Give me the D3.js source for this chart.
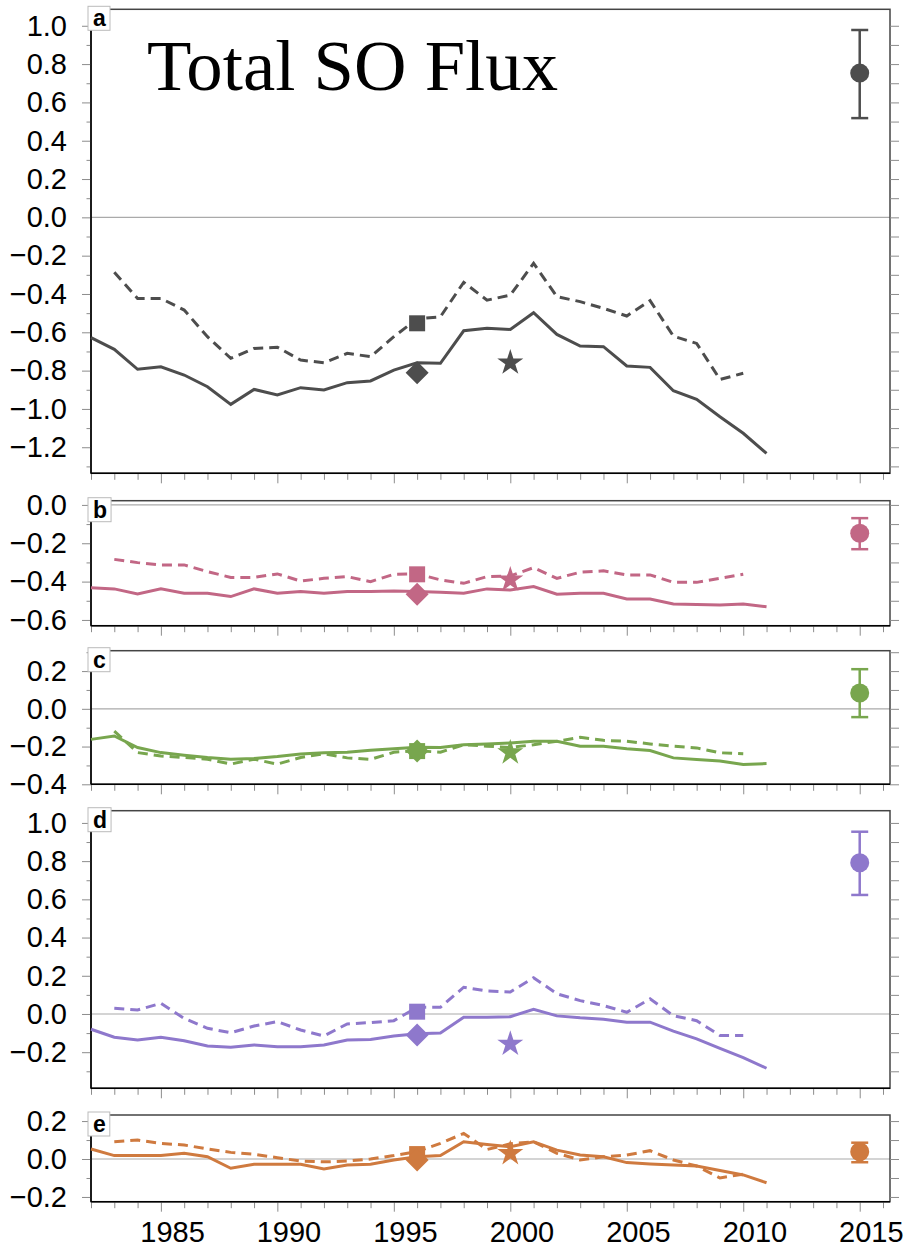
<!DOCTYPE html>
<html>
<head>
<meta charset="utf-8">
<script src="https://cdn.jsdelivr.net/npm/d3@7"></script>
<style>
  body { margin: 0; background: #fff; }
  svg { display: block; }
  .tick text { font-family: "Liberation Sans", Arial, Helvetica, sans-serif; }
</style>
</head>
<body>
<div id="chart"></div>
<script>
// ---- data ----
var yearsSolid = d3.range(1982, 2012);   // 1982..2011
var yearsDashed = d3.range(1983, 2011);  // 1983..2010
var panelLetters = ["a", "b", "c", "d", "e"];
var panelColors = ["#4d4d4d", "#c26785", "#78a64e", "#8e78cc", "#cf7a3f"];

var solidA = [-0.628, -0.689, -0.793, -0.78, -0.823, -0.884, -0.976, -0.898, -0.927, -0.889,
  -0.901, -0.863, -0.854, -0.797, -0.759, -0.762, -0.592, -0.579, -0.585, -0.498,
  -0.611, -0.672, -0.675, -0.776, -0.783, -0.905, -0.95, -1.041, -1.127, -1.232];
var dashedA = [-0.287, -0.423, -0.423, -0.484, -0.623, -0.736, -0.684, -0.678, -0.745, -0.759,
  -0.71, -0.727, -0.623, -0.53, -0.519, -0.339, -0.432, -0.406, -0.24, -0.414,
  -0.44, -0.475, -0.515, -0.435, -0.62, -0.658, -0.846, -0.814];

var solidB = [-0.432, -0.438, -0.465, -0.438, -0.461, -0.461, -0.478, -0.438, -0.461, -0.452,
  -0.461, -0.452, -0.452, -0.449, -0.452, -0.455, -0.461, -0.438, -0.444, -0.426,
  -0.466, -0.461, -0.461, -0.491, -0.491, -0.517, -0.519, -0.522, -0.517, -0.531];
var dashedB = [-0.284, -0.301, -0.313, -0.313, -0.348, -0.378, -0.378, -0.36, -0.397, -0.383,
  -0.374, -0.4, -0.362, -0.36, -0.391, -0.409, -0.374, -0.37, -0.327, -0.383,
  -0.351, -0.344, -0.365, -0.365, -0.404, -0.404, -0.383, -0.362];

var solidC = [-0.162, -0.144, -0.205, -0.232, -0.246, -0.258, -0.267, -0.263, -0.253, -0.24,
  -0.233, -0.23, -0.22, -0.211, -0.204, -0.205, -0.19, -0.186, -0.181, -0.172,
  -0.172, -0.198, -0.198, -0.211, -0.221, -0.26, -0.268, -0.277, -0.295, -0.29];
var dashedC = [-0.118, -0.232, -0.25, -0.258, -0.267, -0.293, -0.267, -0.293, -0.258, -0.238,
  -0.26, -0.268, -0.23, -0.222, -0.23, -0.19, -0.198, -0.205, -0.19, -0.172,
  -0.151, -0.167, -0.172, -0.186, -0.198, -0.207, -0.233, -0.238];

var solidD = [-0.08, -0.122, -0.136, -0.122, -0.14, -0.168, -0.174, -0.162, -0.171, -0.171,
  -0.162, -0.136, -0.133, -0.115, -0.103, -0.1, -0.017, -0.017, -0.014, 0.025,
  -0.01, -0.02, -0.027, -0.043, -0.043, -0.09, -0.13, -0.18, -0.228, -0.284];
var dashedD = [0.03, 0.021, 0.056, -0.023, -0.075, -0.098, -0.063, -0.04, -0.084, -0.115,
  -0.052, -0.045, -0.035, 0.035, 0.035, 0.14, 0.12, 0.115, 0.19, 0.106,
  0.07, 0.044, 0.009, 0.079, -0.009, -0.035, -0.113, -0.113];

var solidE = [0.053, 0.018, 0.018, 0.018, 0.03, 0.012, -0.049, -0.028, -0.028, -0.028,
  -0.053, -0.032, -0.028, -0.005, 0.012, 0.018, 0.091, 0.077, 0.065, 0.091,
  0.047, 0.021, 0.012, -0.019, -0.026, -0.032, -0.037, -0.061, -0.084, -0.125];
var dashedE = [0.091, 0.1, 0.082, 0.074, 0.053, 0.035, 0.025, 0.007, -0.011, -0.015,
  -0.011, 0.0, 0.018, 0.04, 0.082, 0.135, 0.05, 0.08, 0.091, 0.03,
  -0.005, 0.012, 0.021, 0.044, -0.005, -0.037, -0.1, -0.08];

var solids = [solidA, solidB, solidC, solidD, solidE];
var dasheds = [dashedA, dashedB, dashedC, dashedD, dashedE];

// single-estimate markers: square & diamond at 1996, star at 2000
var squareYear = 1996, diamondYear = 1996, starYear = 2000;
var squareVals = [-0.553, -0.362, -0.224, 0.012, 0.026];
var diamondVals = [-0.811, -0.466, -0.224, -0.11, -0.005];
var starVals = [-0.759, -0.39, -0.232, -0.157, 0.03];

// error-bar estimate at 2015
var errYear = 2015;
var errMid = [0.753, -0.148, 0.084, 0.792, 0.038];
var errLo = [0.518, -0.231, -0.044, 0.623, -0.017];
var errHi = [0.978, -0.069, 0.21, 0.954, 0.086];

// y domains and labelled ticks per panel
var yDomains = [[-1.336, 1.086], [-0.63, 0.022], [-0.4, 0.308], [-0.389, 1.064], [-0.225, 0.232]];
var yLabelMin = [-1.2, -0.6, -0.4, -0.2, -0.2];
var yLabelMax = [1.0, 0.0, 0.2, 1.0, 0.2];
var xLabelYears = [1985, 1990, 1995, 2000, 2005, 2010, 2015];
var titleText = "Total SO Flux";

// ---- layout ----
var width = 910, height = 1248;
var left = 91, right = 890;
var panelTop = [9.3, 500.7, 650.7, 810.7, 1115];
var panelBottom = [473.3, 625.7, 784.3, 1088.3, 1201.7];

var svg = d3.select("#chart").append("svg")
    .attr("width", width)
    .attr("height", height);

var x = d3.scaleLinear().domain([1982, 2016.3]).range([left, right]);
var fmt = function(v) { return d3.format(".1f")(v).replace("-", "\u2212"); };
var tickGray = "#8c8c8c";

panelLetters.forEach(function(letter, i) {
    var y = d3.scaleLinear().domain(yDomains[i]).range([panelBottom[i], panelTop[i]]);
    var g = svg.append("g");
    var color = panelColors[i];

    // zero line
    g.append("line")
        .attr("x1", left).attr("x2", right)
        .attr("y1", y(0)).attr("y2", y(0))
        .attr("stroke", "#aaa").attr("stroke-width", 1.2);

    // frame (top, right)
    g.append("rect")
        .attr("x", left).attr("y", panelTop[i])
        .attr("width", right - left).attr("height", panelBottom[i] - panelTop[i])
        .attr("fill", "none").attr("stroke", "#444").attr("stroke-width", 1.5);

    // y ticks every 0.1
    var lo = Math.ceil(yDomains[i][0] * 10 - 1e-6), hi = Math.floor(yDomains[i][1] * 10 + 1e-6);
    var yTicks = d3.range(lo, hi + 1).map(function(k) { return k / 10; });
    var isLab = function(v) {
        var k = Math.round(v * 10);
        return k % 2 === 0 && v >= yLabelMin[i] - 1e-6 && v <= yLabelMax[i] + 1e-6;
    };

    var yAxis = g.append("g")
        .attr("transform", "translate(" + left + ",0)")
        .call(d3.axisLeft(y).tickValues(yTicks).tickSizeOuter(0).tickPadding(18)
            .tickFormat(function(v) { return isLab(v) ? fmt(v) : ""; }));
    yAxis.select(".domain").remove();
    yAxis.selectAll(".tick line")
        .attr("stroke", tickGray)
        .attr("x2", function(v) { return isLab(v) ? -9 : -4.5; });
    yAxis.selectAll(".tick text")
        .attr("font-size", 29).attr("fill", "#000");

    var rAxis = g.append("g")
        .attr("transform", "translate(" + right + ",0)")
        .call(d3.axisRight(y).tickValues(yTicks).tickSizeOuter(0).tickSize(9).tickFormat(""));
    rAxis.select(".domain").remove();
    rAxis.selectAll(".tick line").attr("stroke", tickGray);

    // x ticks each year
    var xAxis = g.append("g")
        .attr("transform", "translate(0," + panelBottom[i] + ")")
        .call(d3.axisBottom(x).tickValues(d3.range(1982, 2017)).tickSizeOuter(0).tickFormat(""));
    xAxis.select(".domain").remove();
    xAxis.selectAll(".tick line")
        .attr("stroke", tickGray)
        .attr("y2", function(v) { return v % 5 === 0 ? 10 : 6.5; });

    // axis lines
    g.append("line").attr("x1", left).attr("x2", left)
        .attr("y1", panelTop[i]).attr("y2", panelBottom[i])
        .attr("stroke", "#000").attr("stroke-width", 1.5);
    g.append("line").attr("x1", left).attr("x2", right)
        .attr("y1", panelBottom[i]).attr("y2", panelBottom[i])
        .attr("stroke", "#000").attr("stroke-width", 1.5);

    // lines
    var line = d3.line().x(function(d) { return x(d[0]); }).y(function(d) { return y(d[1]); });
    g.append("path")
        .datum(yearsDashed.map(function(yr, j) { return [yr, dasheds[i][j]]; }))
        .attr("d", line).attr("fill", "none").attr("stroke", color)
        .attr("stroke-width", 3).attr("stroke-dasharray", "10,6");
    g.append("path")
        .datum(yearsSolid.map(function(yr, j) { return [yr, solids[i][j]]; }))
        .attr("d", line).attr("fill", "none").attr("stroke", color)
        .attr("stroke-width", 3);

    // markers
    g.append("path")
        .attr("d", d3.symbol(d3.symbolSquare, 256)())
        .attr("transform", "translate(" + x(squareYear) + "," + y(squareVals[i]) + ")")
        .attr("fill", color);
    g.append("path")
        .attr("d", d3.symbol(d3.symbolSquare, 265)())
        .attr("transform", "translate(" + x(diamondYear) + "," + y(diamondVals[i]) + ") rotate(45)")
        .attr("fill", color);
    g.append("path")
        .attr("d", d3.symbol(d3.symbolStar, 210)())
        .attr("transform", "translate(" + x(starYear) + "," + y(starVals[i]) + ")")
        .attr("fill", color);

    // error bar
    var ex = x(errYear);
    g.append("line").attr("x1", ex).attr("x2", ex)
        .attr("y1", y(errLo[i])).attr("y2", y(errHi[i]))
        .attr("stroke", color).attr("stroke-width", 2.5);
    [errLo[i], errHi[i]].forEach(function(v) {
        g.append("line").attr("x1", ex - 8.5).attr("x2", ex + 8.5)
            .attr("y1", y(v)).attr("y2", y(v))
            .attr("stroke", color).attr("stroke-width", 2.5);
    });
    g.append("circle").attr("cx", ex).attr("cy", y(errMid[i])).attr("r", 9.5).attr("fill", color);

    // panel letter box
    var box = g.append("rect");
    var lab = g.append("text")
        .attr("x", left + 2).attr("y", panelTop[i] + 17)
        .attr("font-family", "Liberation Sans, Arial, sans-serif")
        .attr("font-weight", "bold").attr("font-size", 23)
        .text(letter);
    var bb = lab.node().getBBox();
    box.attr("x", left - 3).attr("y", panelTop[i] - 3)
        .attr("width", bb.width + 9).attr("height", bb.y + bb.height - panelTop[i] + 2)
        .attr("fill", "#fff").attr("stroke", "#bbb").attr("stroke-width", 1);

    // x labels on last panel, centred within the year
    if (i === panelLetters.length - 1) {
        g.selectAll(".xlab").data(xLabelYears).enter().append("text")
            .attr("class", "xlab")
            .attr("x", function(d) { return x(d + 0.5); })
            .attr("y", 1242)
            .attr("text-anchor", "middle")
            .attr("font-family", "Liberation Sans, Arial, sans-serif")
            .attr("font-size", 29)
            .text(function(d) { return d; });
    }
});

// title
svg.append("text")
    .attr("x", 147).attr("y", 90)
    .attr("font-family", "Liberation Serif, Times New Roman, serif")
    .attr("font-size", 72)
    .attr("textLength", 411)
    .attr("lengthAdjust", "spacingAndGlyphs")
    .text(titleText);
</script>
</body>
</html>
